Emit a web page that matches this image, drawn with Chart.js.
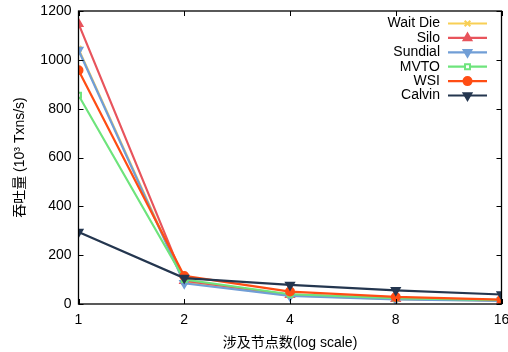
<!DOCTYPE html>
<html>
<head>
<meta charset="utf-8">
<script src="https://cdn.jsdelivr.net/npm/chart.js@4"></script>
<style>
  html, body { margin: 0; padding: 0; background: #fff; }
  #wrap { width: 508px; height: 352px; position: relative; }
</style>
</head>
<body>
<div id="wrap"><canvas id="chart" width="508" height="352"></canvas></div>
<script>
// data
const nodes = [1, 2, 4, 8, 16];
const seriesNames = ['Wait Die', 'Silo', 'Sundial', 'MVTO', 'WSI', 'Calvin'];
const waitDie = [1045, 90, 35, 20, 14];
const silo = [1148, 95, 38, 22, 15];
const sundial = [1040, 85, 33, 19, 13];
const mvto = [855, 100, 40, 24, 16];
const wsi = [957, 115, 51, 29, 18];
const calvin = [295, 106, 78, 56, 39];
const yTicks = [0, 200, 400, 600, 800, 1000, 1200];

const FONT = '"Liberation Sans", Arial, "Noto Sans CJK SC", sans-serif';

const styles = [
  { color: '#f8cf55', point: 'crossRot', radius: 4, rotation: 0, fill: '#f8cf55' },
  { color: '#e8545c', point: 'triangle', radius: 4.5, rotation: 0, fill: '#e8545c' },
  { color: '#719ed6', point: 'triangle', radius: 4.5, rotation: 180, fill: '#719ed6' },
  { color: '#6ee47c', point: 'rect', radius: 3.5, rotation: 0, fill: '#ffffff' },
  { color: '#ff4d14', point: 'circle', radius: 4, rotation: 0, fill: '#ff4d14' },
  { color: '#24364f', point: 'triangle', radius: 4.5, rotation: 180, fill: '#24364f' }
];

const allValues = [waitDie, silo, sundial, mvto, wsi, calvin];

const datasets = seriesNames.map((name, i) => ({
  label: name,
  data: nodes.map((n, j) => ({ x: n, y: allValues[i][j] })),
  borderColor: styles[i].color,
  backgroundColor: styles[i].fill,
  pointBorderColor: styles[i].color,
  pointBackgroundColor: styles[i].fill,
  pointStyle: styles[i].point,
  pointRadius: styles[i].radius,
  pointRotation: styles[i].rotation,
  pointBorderWidth: 2,
  borderWidth: 2.2,
  tension: 0,
  order: seriesNames.length - i
}));

// frame with inward, mirrored ticks (gnuplot look)
const framePlugin = {
  id: 'frame',
  afterDatasetsDraw(chart) {
    const { ctx, chartArea: a, scales } = chart;
    ctx.save();
    ctx.strokeStyle = '#000';
    ctx.lineWidth = 1.3;
    ctx.strokeRect(a.left, a.top, a.right - a.left, a.bottom - a.top);
    ctx.lineWidth = 1;
    ctx.beginPath();
    nodes.forEach(v => {
      const x = Math.round(scales.x.getPixelForValue(v)) + 0.5;
      ctx.moveTo(x, a.bottom); ctx.lineTo(x, a.bottom - 5);
      ctx.moveTo(x, a.top); ctx.lineTo(x, a.top + 5);
    });
    yTicks.forEach(v => {
      const y = Math.round(scales.y.getPixelForValue(v)) + 0.5;
      ctx.moveTo(a.left, y); ctx.lineTo(a.left + 5, y);
      ctx.moveTo(a.right, y); ctx.lineTo(a.right - 5, y);
    });
    ctx.stroke();
    ctx.restore();
  }
};

// legend: text right aligned, then line sample with marker
const legendPlugin = {
  id: 'gpLegend',
  afterDraw(chart) {
    const { ctx } = chart;
    ctx.save();
    ctx.font = '14px ' + FONT;
    ctx.textAlign = 'right';
    ctx.textBaseline = 'middle';
    chart.data.datasets.forEach((ds, i) => {
      const y = 23.5 + i * 14.4;
      ctx.fillStyle = '#000';
      ctx.fillText(ds.label, 440, y);
      ctx.strokeStyle = ds.borderColor;
      ctx.lineWidth = 2.2;
      ctx.beginPath();
      ctx.moveTo(448, y); ctx.lineTo(487, y);
      ctx.stroke();
      ctx.fillStyle = ds.pointBackgroundColor;
      ctx.strokeStyle = ds.pointBorderColor;
      ctx.lineWidth = 2;
      Chart.helpers.drawPoint(ctx, {
        pointStyle: ds.pointStyle,
        radius: ds.pointRadius,
        rotation: ds.pointRotation,
        borderWidth: 2
      }, 467.5, y);
    });
    ctx.restore();
  }
};

new Chart(document.getElementById('chart'), {
  type: 'line',
  data: { datasets: datasets },
  options: {
    responsive: false,
    animation: false,
    devicePixelRatio: 1,
    layout: { padding: { top: 11, right: 5.5, left: 0, bottom: 0 } },
    plugins: {
      legend: { display: false },
      tooltip: { enabled: false }
    },
    scales: {
      x: {
        type: 'logarithmic',
        min: 1,
        max: 16,
        afterBuildTicks(scale) {
          scale.ticks = nodes.map(v => ({ value: v }));
        },
        afterFit(scale) {
          scale.height = 48;
          scale.paddingLeft = 0;
          scale.paddingRight = 0;
        },
        grid: { display: false, drawTicks: false },
        border: { display: false },
        ticks: {
          color: '#000',
          font: { family: FONT, size: 14 },
          padding: 8,
          maxRotation: 0,
          autoSkip: false,
          callback: v => String(v)
        },
        title: {
          display: true,
          text: '涉及节点数(log scale)',
          color: '#000',
          font: { family: FONT, size: 14 },
          padding: { top: 3, bottom: 0 }
        }
      },
      y: {
        min: 0,
        max: 1200,
        afterBuildTicks(scale) {
          scale.ticks = yTicks.map(v => ({ value: v }));
        },
        afterFit(scale) {
          scale.width = 78.5;
          scale.paddingTop = 0;
          scale.paddingBottom = 0;
        },
        grid: { display: false, drawTicks: false },
        border: { display: false },
        ticks: {
          color: '#000',
          font: { family: FONT, size: 14 },
          padding: 7,
          callback: v => String(v)
        },
        title: {
          display: true,
          text: '吞吐量 (10³ Txns/s)',
          color: '#000',
          font: { family: FONT, size: 14 },
          padding: { top: 12, bottom: 4 }
        }
      }
    }
  },
  plugins: [framePlugin, legendPlugin]
});
</script>
</body>
</html>
